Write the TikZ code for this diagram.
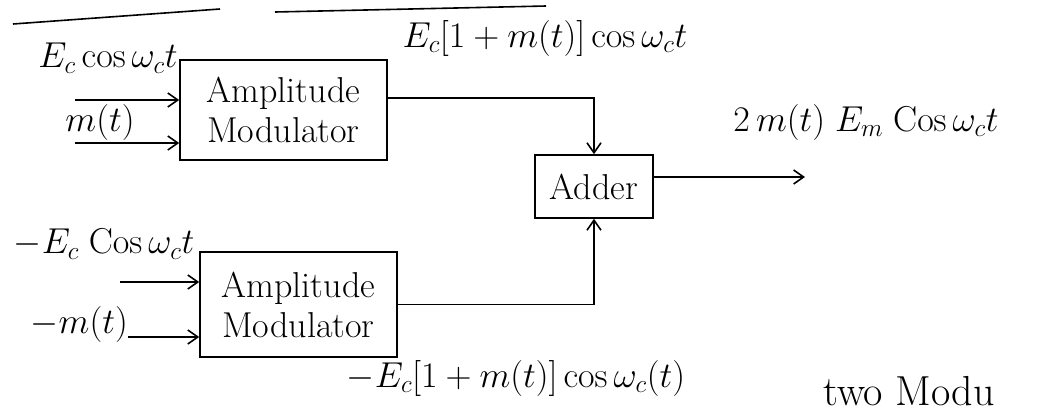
\RequirePackage{fix-cm}
\documentclass[tikz,border=0pt]{standalone}
\usetikzlibrary{arrows.meta}
\begin{document}
\begin{tikzpicture}[x=1pt,y=-1pt,
  blk/.style={draw,line width=1.6pt,align=center,inner sep=0pt,font=\fontsize{36}{40}\selectfont},
  wire/.style={line width=1.6pt},
  arr/.style={wire,-{Straight Barb[length=10pt,width=14pt,line width=1.6pt]}},
  lab/.style={font=\fontsize{36}{40}\selectfont,inner sep=0pt}]
\useasboundingbox (0,0) rectangle (1050,416);
\clip (0,0) rectangle (1050,416);
% underlines at the top
\coordinate (u1) at (13,24); \coordinate (u2) at (220,9);
\coordinate (u3) at (275,12); \coordinate (u4) at (546,6);
\draw[wire] (u1) -- (u2);
\draw[wire] (u3) -- (u4);
% blocks
\node[blk,minimum width=207pt,minimum height=100pt] (am1) at (283.5,110) {Amplitude\\Modulator};
\node[blk,minimum width=197pt,minimum height=105pt] (am2) at (298.5,304.5) {Amplitude\\Modulator};
\node[blk,minimum width=118pt,minimum height=63pt] (adder) at (594,186.5) {Adder};
% inputs
\coordinate (i1) at (75,100);
\coordinate (i2) at (75,143);
\coordinate (i3) at (120,282);
\coordinate (i4) at (128,337);
\draw[arr] (i1) -- (i1 -| am1.west);
\draw[arr] (i2) -- (i2 -| am1.west);
\draw[arr] (i3) -- (i3 -| am2.west);
\draw[arr] (i4) -- (i4 -| am2.west);
% outputs
\draw[arr] ([yshift=12pt]am1.east) -| (adder.north);
\draw[arr] (am2.east) -| (adder.south);
\coordinate (out) at (805,177);
\draw[arr] (adder.east |- out) -- (out);
% labels
\node[lab] (l1) at (108,58) {$E_c\cos\omega_c t$};
\node[lab] (l2) at (100,122) {$m(t)$};
\node[lab] (l3) at (545,38) {$E_c[1+m(t)]\cos\omega_c t$};
\node[lab] (l4) at (866,122) {$2\,m(t)\;E_m\;\mathrm{Cos}\,\omega_c t$};
\node[lab] (l5) at (104,244) {$-E_c\;\mathrm{Cos}\,\omega_c t$};
\node[lab,anchor=east] (l6) at (128,324) {$-m(t)$};
\node[lab] (l7) at (516,378) {$-E_c[1+m(t)]\cos\omega_c(t)$};
\node[font=\fontsize{42}{46}\selectfont,anchor=base west,inner sep=0pt] (l8) at (823,405) {two Modu};
\end{tikzpicture}
\end{document}
